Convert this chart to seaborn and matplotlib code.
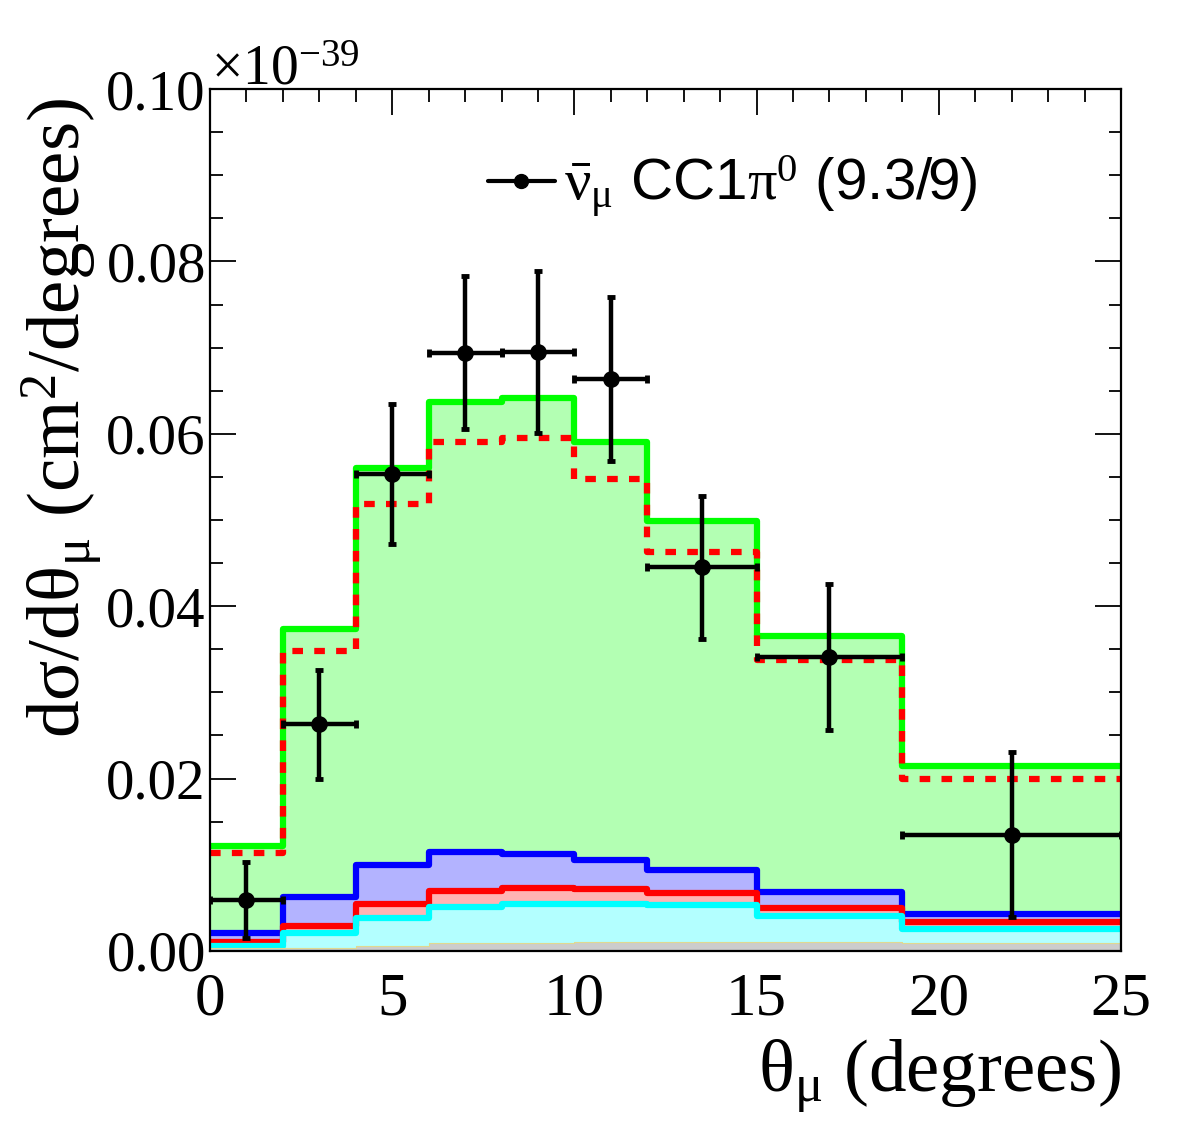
import matplotlib
matplotlib.use("Agg")
import matplotlib.pyplot as plt
import numpy as np
import pandas as pd
import seaborn as sns
from matplotlib.ticker import MultipleLocator, FormatStrFormatter

# bin edges in muon angle (degrees)
bin_edges = [0, 2, 4, 6, 8, 10, 12, 15, 19, 25]

# measured cross section (x 1e-39 cm^2/degree) and its uncertainty
data_xsec = [0.0059, 0.0263, 0.0553, 0.0694, 0.0695, 0.0664, 0.0445, 0.0341, 0.0135]
data_err = [0.0044, 0.0063, 0.0081, 0.0089, 0.0094, 0.0095, 0.0083, 0.0085, 0.0096]

# model predictions, cumulative stack levels
total_pred = [0.0122, 0.0374, 0.0560, 0.0637, 0.0641, 0.0590, 0.0499, 0.0365, 0.0215]
alt_pred = [0.0114, 0.0348, 0.0519, 0.0591, 0.0595, 0.0548, 0.0463, 0.0338, 0.0199]
blue_level = [0.0021, 0.0063, 0.0100, 0.0115, 0.0112, 0.0106, 0.0094, 0.0068, 0.0043]
red_level = [0.0010, 0.0029, 0.0055, 0.0069, 0.0073, 0.0072, 0.0067, 0.0050, 0.0034]
cyan_level = [0.0006, 0.0021, 0.0038, 0.0051, 0.0055, 0.0055, 0.0053, 0.0041, 0.0026]
gray_level = [0.0003, 0.0004, 0.0006, 0.0009, 0.0009, 0.0010, 0.0010, 0.0010, 0.0009]

legend_label = r"$\bar{\nu}_{\mu}$ CC1$\pi^{0}$ (9.3/9)"

sns.set_style("ticks")
plt.rcParams["font.family"] = ["Liberation Serif", "DejaVu Serif"]
plt.rcParams["mathtext.fontset"] = "custom"
plt.rcParams["mathtext.rm"] = "Liberation Serif"
plt.rcParams["mathtext.it"] = "Liberation Serif:italic"
plt.rcParams["mathtext.default"] = "rm"
plt.rcParams["text.color"] = "black"
plt.rcParams["axes.labelcolor"] = "black"

edges = np.array(bin_edges, dtype=float)
centers = 0.5 * (edges[:-1] + edges[1:])
half_w = 0.5 * np.diff(edges)

fig = plt.figure(figsize=(11.82, 11.34), dpi=100)
ax = fig.add_axes([0.1777, 0.1614, 0.7707, 0.7601])

layers = [
    (total_pred, "#b3ffb3", "#00ff00"),
    (blue_level, "#b3b3ff", "#0000ff"),
    (red_level, "#ffb3b3", "#ff0000"),
    (cyan_level, "#b3ffff", "#00ffff"),
    (gray_level, "#cccccc", "#e0d890"),
]


def hist_step(vals, ax, **kws):
    df = pd.DataFrame({"theta": centers, "w": vals})
    sns.histplot(data=df, x="theta", weights="w", bins=bin_edges, element="step", ax=ax, **kws)


for i, (vals, fill_c, line_c) in enumerate(layers):
    hist_step(vals, ax, fill=True, facecolor=fill_c, edgecolor="none", linewidth=0, alpha=1)
    lw = 4.5 if i < 4 else 0.8
    hist_step(vals, ax, fill=False, color=line_c, linewidth=lw)
    if i == 0:
        hist_step(alt_pred, ax, fill=False, color="#ff0000", linewidth=4.5,
                  linestyle=(0, (1.7, 1.8)))

ax.errorbar(centers, data_xsec, xerr=half_w, yerr=data_err, fmt="o", color="black",
            markersize=11, elinewidth=3.2, capsize=3, capthick=3.5, zorder=10)

# legend proxy
ax.plot([], [], color="black", marker="o", markersize=10, linewidth=3, label=legend_label)
leg = ax.legend(loc="center left", bbox_to_anchor=(0.305, 0.886), frameon=False,
                handlelength=1.15, handletextpad=0.15, borderpad=0, borderaxespad=0,
                prop={"family": "Liberation Sans", "size": 42})

ax.set_xlim(0, 25)
ax.set_ylim(0, 0.10)
ax.xaxis.set_major_locator(MultipleLocator(5))
ax.xaxis.set_minor_locator(MultipleLocator(1))
ax.yaxis.set_major_locator(MultipleLocator(0.02))
ax.yaxis.set_minor_locator(MultipleLocator(0.005))
ax.yaxis.set_major_formatter(FormatStrFormatter("%.2f"))
ax.tick_params(which="both", direction="in", top=True, right=True, width=1.3,
               colors="black")
ax.tick_params(which="major", length=19)
ax.tick_params(which="minor", length=9)
ax.tick_params(axis="x", pad=15, labelsize=44)
ax.tick_params(axis="y", pad=3, labelsize=41)
for s in ax.spines.values():
    s.set_linewidth(1.6)
    s.set_color("black")
    s.set_zorder(20)

ax.set_xlabel(r"θ$_{μ}$ (degrees)", fontsize=54, loc="right")
ax.set_ylabel(r"dσ/dθ$_{μ}$ (cm$^{2}$/degrees)", fontsize=54, loc="top")
ax.xaxis.set_label_coords(1.0, -0.100)
ax.yaxis.set_label_coords(-0.117, 0.99)
ax.annotate(r"$\times$10$^{-39}$", xy=(0.0, 1.0), xycoords="axes fraction",
            xytext=(1, 3), textcoords="offset points", ha="left", va="baseline",
            fontsize=40)

fig.savefig("out.png", dpi=100)
